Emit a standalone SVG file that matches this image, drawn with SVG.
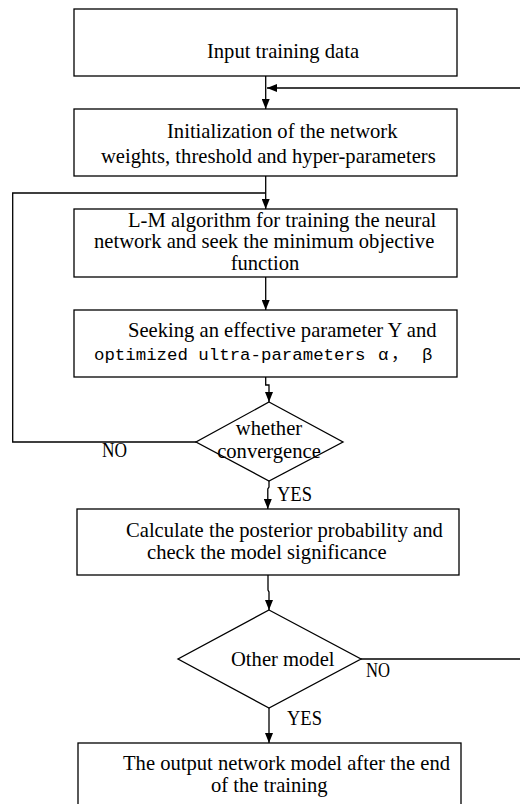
<svg xmlns="http://www.w3.org/2000/svg" width="520" height="804" viewBox="0 0 520 804">
<defs>
<marker id="arr" markerUnits="userSpaceOnUse" markerWidth="10" markerHeight="8" refX="10" refY="4" orient="auto">
<path d="M0,0 L10,4 L0,8 z" fill="#000"/>
</marker>
</defs>
<style>
.box{fill:#fff;stroke:#000;stroke-width:1.3}
.ln{fill:none;stroke:#000;stroke-width:1.3}
.t{font-family:"Liberation Serif","Times New Roman",serif;font-size:20.6px;fill:#000}
.m{font-family:"Liberation Mono","Noto Sans CJK SC",monospace;font-size:17.4px;fill:#000}
.lb{font-family:"Liberation Serif","Times New Roman",serif;font-size:21px;fill:#000}
.c{text-anchor:middle}
</style>
<rect width="520" height="804" fill="#fff"/>
<g id="connectors">
<line class="ln" x1="265.7" y1="76" x2="265.7" y2="109" marker-end="url(#arr)"/>
<line class="ln" x1="520" y1="88" x2="267" y2="88" marker-end="url(#arr)"/>
<line class="ln" x1="265.7" y1="176" x2="265.7" y2="209" marker-end="url(#arr)"/>
<polyline class="ln" points="196,442 12.7,442 12.7,193 265.7,193"/>
<line class="ln" x1="265.7" y1="277" x2="265.7" y2="310" marker-end="url(#arr)"/>
<polyline class="ln" points="265.7,377 265.7,385 269,385 269,402" marker-end="url(#arr)"/>
<polyline class="ln" points="269,481 269,487 267.8,489 267.8,509" marker-end="url(#arr)"/>
<polyline class="ln" points="268,575 268,590 269,592 269,610" marker-end="url(#arr)"/>
<line class="ln" x1="361" y1="659" x2="520" y2="659"/>
<line class="ln" x1="269" y1="708" x2="269" y2="743" marker-end="url(#arr)"/>
<text class="lb" x="102" y="457" textLength="25" lengthAdjust="spacingAndGlyphs">NO</text>
<text class="lb" x="277" y="501" textLength="35" lengthAdjust="spacingAndGlyphs">YES</text>
<text class="lb" x="366" y="677" textLength="24" lengthAdjust="spacingAndGlyphs">NO</text>
<text class="lb" x="287" y="725" textLength="35" lengthAdjust="spacingAndGlyphs">YES</text>
</g>
<g id="input">
<rect class="box" x="74" y="9" width="383" height="67"/>
<text class="t c" x="283" y="58">Input training data</text>
</g>
<g id="init">
<rect class="box" x="74" y="109" width="383" height="67"/>
<text class="t" x="167" y="138">Initialization of the network</text>
<text class="t" x="101" y="163">weights, threshold and hyper-parameters</text>
</g>
<g id="lm">
<rect class="box" x="74" y="209" width="383" height="68"/>
<text class="t" x="128" y="227">L-M algorithm for training the neural</text>
<text class="t" x="94" y="248">network and seek the minimum objective</text>
<text class="t c" x="265" y="270">function</text>
</g>
<g id="seek">
<rect class="box" x="74" y="310" width="383" height="67"/>
<text class="t" x="128" y="337">Seeking an effective parameter Y and</text>
<text class="m" x="94" y="360">optimized ultra-parameters<tspan x="378">α</tspan><tspan x="391">，</tspan><tspan x="422">β</tspan></text>
</g>
<g id="converge">
<polygon class="box" points="269,402 343,442 269,481 196,442" style="fill:none"/>
<text class="t c" x="269" y="435">whether</text>
<text class="t c" x="269" y="458">convergence</text>
</g>
<g id="posterior">
<rect class="box" x="77" y="509" width="382" height="66"/>
<text class="t" x="126" y="537">Calculate the posterior probability and</text>
<text class="t" x="147" y="559">check the model significance</text>
</g>
<g id="other">
<polygon class="box" points="269,610 361,659 269,708 178,659" style="fill:none"/>
<text class="t" x="231" y="666">Other model</text>
</g>
<g id="output">
<rect class="box" x="78" y="743" width="383" height="80"/>
<text class="t" x="123" y="770">The output network model after the end</text>
<text class="t" x="211" y="792">of the training</text>
</g>
</svg>
